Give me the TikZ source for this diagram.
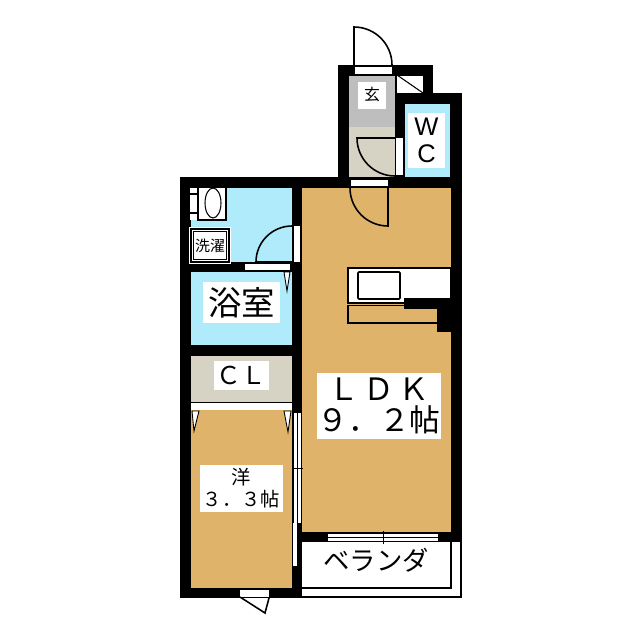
\documentclass[tikz,border=0pt]{standalone}
\usepackage{fontspec}
\setmainfont{Noto Sans CJK JP}
\newfontfamily\latinfont{Liberation Sans}

\definecolor{floorcol}{RGB}{224,179,107}
\definecolor{watercol}{RGB}{175,235,250}
\definecolor{entrycol}{RGB}{190,190,190}
\definecolor{closetcol}{RGB}{214,211,197}

\tikzset{
  label/.style={fill=white,inner sep=0pt,align=center},
  doorline/.style={black,line width=1.8pt},
  thinline/.style={black,line width=1.2pt},
  wallfill/.style={fill=black},
  slit/.style={fill=white}
}
\newcommand{\jpsize}[2]{\fontsize{#1}{#2}\selectfont}

\begin{document}
\begin{tikzpicture}[x=.04cm,y=-.04cm]
  \useasboundingbox (0,0) rectangle (640,640);

  %% outer walls
  \fill[wallfill] (338,65) rectangle (433,188);
  \fill[wallfill] (394,93) rectangle (462,188);
  \fill[wallfill] (180,177) rectangle (462,188);
  \fill[wallfill] (180,177) rectangle (302,598);
  \fill[wallfill] (451,177) rectangle (462,542);
  \fill[wallfill] (302,532) rectangle (462,542);

  %% rooms
  \fill[floorcol] (302,188) rectangle (451,532);
  \fill[floorcol] (191,410) rectangle (292,588);
  \fill[watercol] (191,188) rectangle (292,262);
  \fill[watercol] (191,272) rectangle (292,345);
  \fill[closetcol] (191,356) rectangle (292,402);
  \fill[entrycol] (349,76) rectangle (395,127);
  \fill[closetcol] (349,127) rectangle (395,177);
  \fill[watercol] (405,104) rectangle (450,177);

  %% shoe box corner
  \fill[white] (397,76) rectangle (423,93);
  \draw[thinline] (397,75) -- (423,93);

  %% openings
  \fill[slit] (355,67) rectangle (392,74);
  \fill[slit] (351,180) rectangle (388,186);
  \fill[slit] (396,138) rectangle (403,175);
  \fill[slit] (294,226) rectangle (300,262);
  \fill[slit] (245,264) rectangle (290,270);
  \fill[slit] (191,403) rectangle (292,410);
  \fill[slit] (240,590) rectangle (269,597);

  %% sliding door, bedroom
  \fill[slit] (294,413) rectangle (301,523);
  \fill[slit] (293,523) rectangle (297,566);
  \draw[black,line width=.8pt] (297.5,413) -- (297.5,523);
  \draw[black,line width=.8pt] (292,468) -- (303,468);

  %% sliding window, balcony
  \fill[slit] (328,534) rectangle (438,541);
  \draw[black,line width=.8pt] (328,537.5) -- (438,537.5);
  \draw[black,line width=.8pt] (383,531) -- (383,544);

  %% balcony
  \draw[thinline] (302,588) -- (451,588) -- (451,542);
  \draw[thinline] (302,597) -- (461,597) -- (461,542);

  %% doors
  \draw[doorline] (392,65) arc [start angle=0,end angle=-90,radius=38] -- (354,65);
  \draw[doorline] (350,188) arc [start angle=180,end angle=90,radius=38] -- (388,188);
  \draw[doorline] (395,138) -- (357,138) arc [start angle=180,end angle=90,radius=38];
  \draw[doorline] (292,262) -- (256,262) arc [start angle=180,end angle=270,radius=36];
  \draw[doorline] (240,597) -- (265,613) -- (269,598);

  %% folding door marks
  \filldraw[fill=white,draw=black,line width=1pt] (284,272) -- (290,272) -- (287,291) -- cycle;
  \filldraw[fill=white,draw=black,line width=1pt] (192,411) -- (199,411) -- (194,431) -- cycle;
  \filldraw[fill=white,draw=black,line width=1pt] (284,411) -- (291,411) -- (288,432) -- cycle;

  %% kitchen
  \draw[doorline,fill=white] (348,268) rectangle (451,303);
  \draw[doorline] (348,305) -- (348,323) -- (437,323);
  \draw[thinline] (348,305.5) -- (404,305.5);
  \draw[doorline,rounded corners=1pt] (358,272) rectangle (400,299);
  \fill[wallfill] (404,298) rectangle (451,309);
  \fill[wallfill] (437,298) rectangle (451,332);

  %% wash basin
  \fill[white] (190,188) rectangle (226,220);
  \draw[thinline] (198,188) -- (198,220) -- (226,220) -- (226,188);
  \fill[wallfill] (190,193) rectangle (198,195);
  \fill[wallfill] (190,212) rectangle (198,214);
  \draw[thinline] (213,203) ellipse [x radius=8,y radius=15];

  %% washing machine
  \fill[white] (189,227) rectangle (231,264);
  \draw[black,line width=1.4pt] (191,229) rectangle (229,262);
  \draw[black,line width=.7pt] (193.5,231.5) rectangle (226.5,259.5);

  %% labels
  \node[label,minimum width=28*.04cm,minimum height=27*.04cm,font=\jpsize{18}{18}] (entrylabel) at (372,95) {玄};
  \node[label,minimum width=37*.04cm,minimum height=55*.04cm,font=\latinfont\jpsize{29}{30}] (wclabel) at (426.5,140.5) {W\\C};
  \node[inner sep=0pt,font=\jpsize{17}{17}] (washlabel) at (210,245.5) {洗濯};
  \node[label,minimum width=77*.04cm,minimum height=41*.04cm,font=\jpsize{38}{38}] (bathlabel) at (241.5,302.5) {浴室};
  \node[label,minimum width=55*.04cm,minimum height=29*.04cm,font=\jpsize{28}{28}] (closetlabel) at (241.5,375.5) {ＣＬ};
  \node[label,minimum width=83*.04cm,minimum height=47*.04cm,font=\jpsize{22}{25}] (bedlabel) at (241.5,488.5) {洋\\３．３帖};
  \node[label,minimum width=122*.04cm,minimum height=66*.04cm,font=\jpsize{35}{36}] (ldklabel) at (379,406) {Ｌ\hspace{5pt}Ｄ\hspace{5pt}Ｋ\\９．２帖};
  \node[inner sep=0pt,font=\jpsize{30}{30}] (balconylabel) at (376,560) {ベランダ};
\end{tikzpicture}
\end{document}
